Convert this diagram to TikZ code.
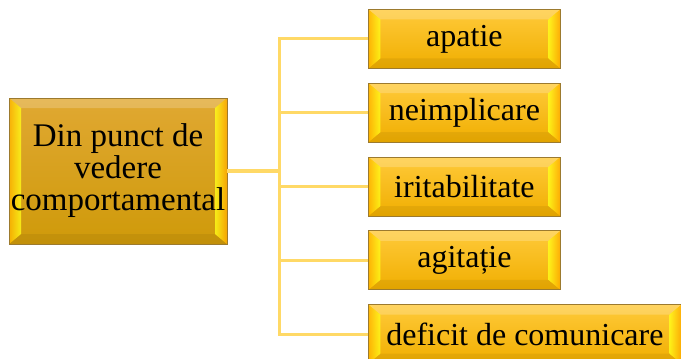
\documentclass[tikz,border=0pt]{standalone}
\usepackage{fontspec}
\setmainfont{Liberation Serif}
\usetikzlibrary{positioning,calc}
\definecolor{boxedge}{HTML}{9C7A2E}
\definecolor{linkgold}{HTML}{FFD966}
\definecolor{facetop}{HTML}{FFCA3A}
\definecolor{facebot}{HTML}{F0AE00}
\definecolor{bigtop}{HTML}{E0A832}
\definecolor{bigbot}{HTML}{CF9A0A}

\begin{document}
\begin{tikzpicture}[x=1pt,y=-1pt]
\tikzstyle{bevel}=[path picture={
  \coordinate (nw) at (path picture bounding box.north west);
  \coordinate (ne) at (path picture bounding box.north east);
  \coordinate (sw) at (path picture bounding box.south west);
  \coordinate (se) at (path picture bounding box.south east);
  \fill[color=white,opacity=0.2] (nw) -- (ne) -- ($(ne)+(-12pt,-10pt)$) -- ($(nw)+(12pt,-10pt)$) -- cycle;
  \fill[color=black,opacity=0.06] (sw) -- (se) -- ($(se)+(-12pt,10pt)$) -- ($(sw)+(12pt,10pt)$) -- cycle;
  \shade[left color=orange!60!yellow,right color=yellow!90!white,opacity=0.8] (nw) -- ($(nw)+(12pt,-10pt)$) -- ($(sw)+(12pt,10pt)$) -- (sw) -- cycle;
  \shade[left color=yellow!90!white,right color=orange!70!yellow,opacity=0.8] (ne) -- ($(ne)+(-12pt,-10pt)$) -- ($(se)+(-12pt,10pt)$) -- (se) -- cycle;
}]
\tikzstyle{smallbox}=[rectangle,draw=boxedge,line width=0.8pt,top color=facetop,bottom color=facebot,
  minimum width=192pt,minimum height=59pt,inner sep=0pt,font=\fontsize{32}{32}\selectfont,bevel]
\tikzstyle{bigbox}=[smallbox,top color=bigtop,bottom color=bigbot,minimum width=218pt,minimum height=146pt,
  align=center,font=\fontsize{33}{32}\selectfont]
\tikzstyle{link}=[draw=linkgold,line width=3pt]
\useasboundingbox (0,0) rectangle (681,359);

\node[bigbox] (main) at (118,171) {Din punct de\\vedere\\comportamental};

\node[smallbox,anchor=north west] (b1) at (368,9) {apatie};
\node[smallbox,below=14pt of b1.south west,anchor=north west] (b2) {neimplicare};
\node[smallbox,below=14pt of b2.south west,anchor=north west] (b3) {iritabilitate};
\node[smallbox,below=14pt of b3.south west,anchor=north west] (b4) {agitație};
\node[smallbox,below=14pt of b4.south west,anchor=north west,minimum width=313pt] (b5) {deficit de comunicare};

\draw[link,line width=4pt] (main.east) -- ++(52,0) coordinate (trunk);
\foreach \b in {b1,b2,b3,b4,b5}
  \draw[link] (trunk) |- (\b.west);
\end{tikzpicture}
\end{document}
